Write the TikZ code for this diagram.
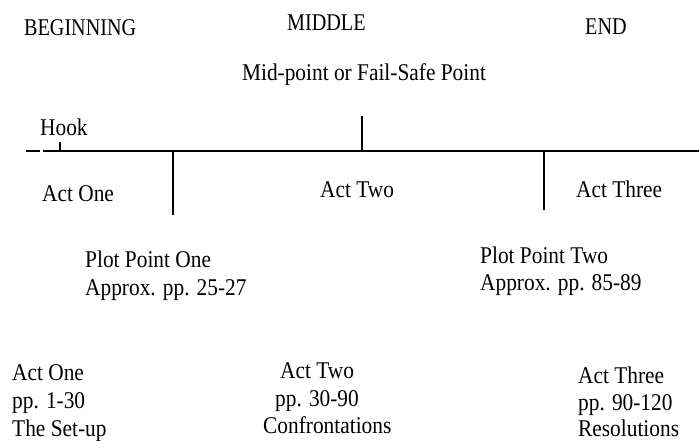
\documentclass[tikz,border=0pt]{standalone}
\usepackage{fontspec}
\setmainfont[FakeStretch=0.89]{Liberation Serif}
\newfontfamily\capsfont[FakeStretch=0.84]{Liberation Serif}
\begin{document}
\begin{tikzpicture}[x=1pt,y=-1pt,
  lbl/.style={anchor=base west,inner sep=0pt,font=\fontsize{24}{28}\selectfont},
  capslbl/.style={anchor=base west,inner sep=0pt,font=\capsfont\fontsize{24}{28}\selectfont},
  ln/.style={line width=1.6pt}]
\useasboundingbox (0,0) rectangle (699,440);
% headings
\node[capslbl] (beg) at (24,35) {BEGINNING};
\node[capslbl] (mid) at (287,30) {MIDDLE};
\node[capslbl] (end) at (585,34) {END};
\node[lbl,anchor=base] (mp) at (364,80) {Mid-point or Fail-Safe Point};
\node[lbl] (hook) at (40,135) {Hook};
% timeline
\coordinate (l0) at (26,151);
\coordinate (l1) at (40,151);
\coordinate (l2) at (43,151);
\coordinate (l3) at (699,151);
\draw[ln] (l0) -- (l1);
\draw[ln] (l2) -- (l3);
\coordinate (h0) at (60,142);
\coordinate (h1) at (60,151);
\draw[ln] (h0) -- (h1);
\coordinate (p1a) at (173,151);
\coordinate (p1b) at (173,215);
\draw[ln] (p1a) -- (p1b);
\coordinate (mpa) at (362,116);
\coordinate (mpb) at (362,151);
\draw[ln] (mpa) -- (mpb);
\coordinate (p2a) at (544,151);
\coordinate (p2b) at (544,210);
\draw[ln] (p2a) -- (p2b);
% acts on line
\node[lbl] (a1) at (42,201) {Act One};
\node[lbl] (a2) at (320,197) {Act Two};
\node[lbl] (a3) at (576,197) {Act Three};
% plot points
\node[lbl] (pp1a) at (85,267) {Plot Point One};
\node[lbl] (pp1b) at (85,295) {Approx. pp. 25-27};
\node[lbl] (pp2a) at (480,263) {Plot Point Two};
\node[lbl] (pp2b) at (480,290) {Approx. pp. 85-89};
% bottom
\node[lbl] (b1a) at (12,380) {Act One};
\node[lbl] (b1b) at (12,408) {pp. 1-30};
\node[lbl] (b1c) at (12,436) {The Set-up};
\node[lbl] (b2a) at (280,378) {Act Two};
\node[lbl] (b2b) at (275,406) {pp. 30-90};
\node[lbl] (b2c) at (263,433) {Confrontations};
\node[lbl] (b3a) at (578,383) {Act Three};
\node[lbl] (b3b) at (578,410) {pp. 90-120};
\node[lbl] (b3c) at (578,436) {Resolutions};
\end{tikzpicture}
\end{document}
